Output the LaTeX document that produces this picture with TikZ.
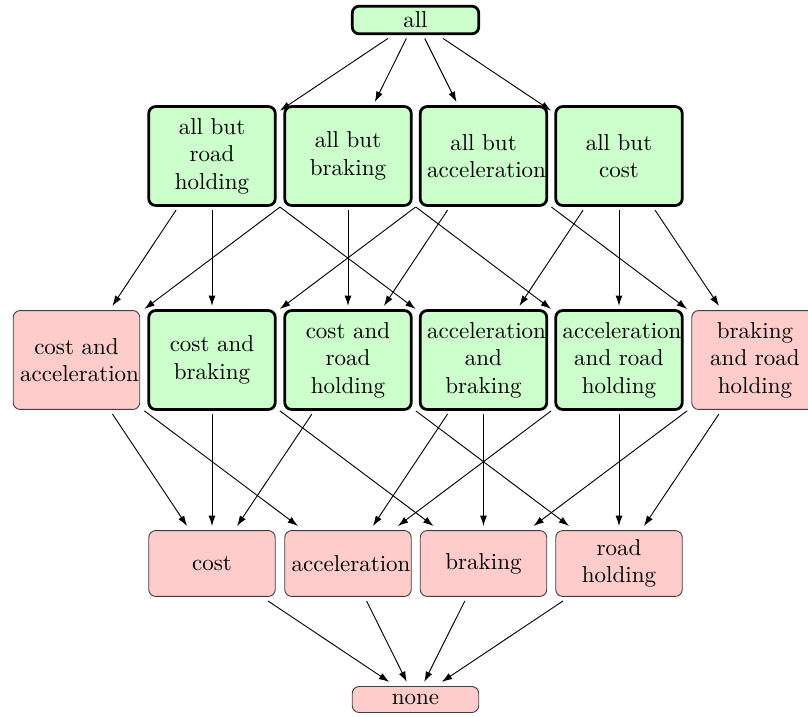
\documentclass[tikz,border=0pt]{standalone}
\usepackage{xcolor}
\usetikzlibrary{arrows.meta}
\hyphenpenalty=10000

\begin{document}
\begin{tikzpicture}[x=0.4348pt, y=-0.4348pt,
    box/.style={rounded corners=3pt, text width=49pt, align=center, inner sep=3pt, outer sep=2pt},
    keep/.style={box, draw, very thick, fill=green!20},
    drop/.style={box, draw=black!75, fill=red!20},
    tall/.style={minimum height=43pt},
    arr/.style={-{Latex[length=4.5pt, width=3pt]}}]
    \useasboundingbox (0,0) rectangle (808,717);
    \node[keep, minimum height=12pt, inner ysep=2pt] (all) at (415.5,20) {all};
    \node[keep, tall] (butroad) at (212,156) {all but road holding};
    \node[keep, tall] (butbrake) at (348,156) {all but braking};
    \node[keep, tall] (butacc) at (483.5,156) {all but acceleration};
    \node[keep, tall] (butcost) at (619,156) {all but cost};
    \node[drop, tall] (costacc) at (76.5,360) {cost and acceleration};
    \node[keep, tall] (costbrake) at (212,360) {cost and braking};
    \node[keep, tall] (costroad) at (348,360) {cost and road holding};
    \node[keep, tall] (accbrake) at (483.5,360) {acceleration and braking};
    \node[keep, tall] (accroad) at (619,360) {acceleration and road holding};
    \node[drop, tall] (brakeroad) at (755,360) {braking and road holding};
    \node[drop, minimum height=28.6pt] (cost) at (212,563.5) {cost};
    \node[drop, minimum height=28.6pt] (acc) at (348,563.5) {acceleration};
    \node[drop, minimum height=28.6pt] (brake) at (483.5,563.5) {braking};
    \node[drop, minimum height=28.6pt] (road) at (619,563.5) {road holding};
    \node[drop, minimum height=11.3pt, inner ysep=2pt] (none) at (415.5,699.5) {none};
    \foreach \a/\b in {all/butroad, all/butbrake, all/butacc, all/butcost,
        butroad/costacc, butroad/costbrake, butroad/accbrake,
        butbrake/costacc, butbrake/costroad, butbrake/accroad,
        butacc/costbrake, butacc/costroad, butacc/brakeroad,
        butcost/accbrake, butcost/accroad, butcost/brakeroad,
        costacc/cost, costacc/acc, costbrake/cost, costbrake/brake,
        costroad/cost, costroad/road, accbrake/acc, accbrake/brake,
        accroad/acc, accroad/road, brakeroad/brake, brakeroad/road,
        cost/none, acc/none, brake/none, road/none}
        \draw[arr] (\a) -- (\b);
\end{tikzpicture}
\end{document}
